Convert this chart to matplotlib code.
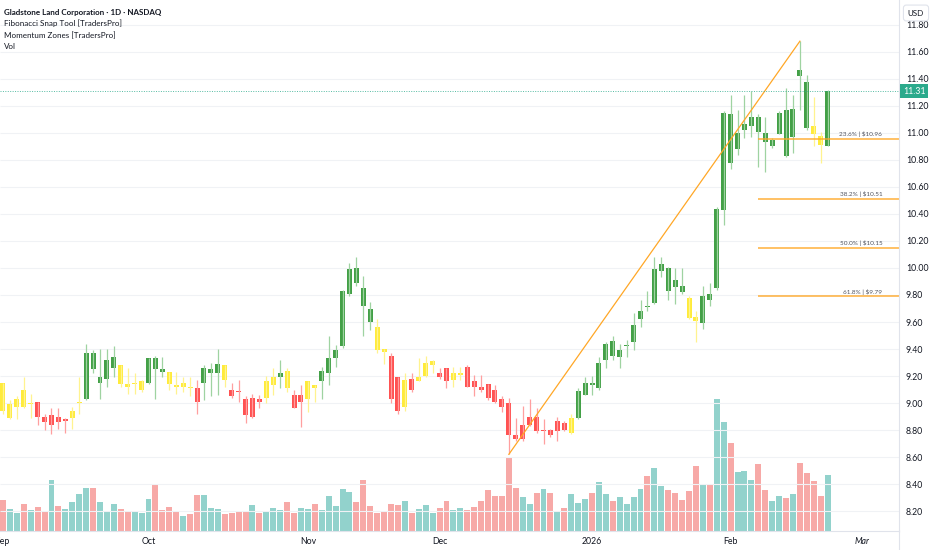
import numpy as np
import matplotlib.pyplot as plt
from matplotlib.lines import Line2D
from matplotlib.transforms import blended_transform_factory

plt.rcParams['font.family'] = ['Lato', 'DejaVu Sans']

# daily bars, Sep 2 2025 .. Feb 23 2026 (bar index = trading day)
opens = [9.15, 8.89, 8.97, 9.10, 8.99, 9.01, 8.90, 8.84, 8.90, 8.87,
         8.89, 9.00, 9.03, 9.37, 9.15, 9.18, 9.26, 9.28, 9.14, 9.14,
         9.10, 9.15, 9.33, 9.25, 9.23, 9.13, 9.12, 9.12, 9.11, 9.15,
         9.22, 9.22, 9.28, 9.10, 9.09, 9.03, 8.90, 9.03, 9.04, 9.13,
         9.19, 9.24, 9.06, 9.01, 9.03, 9.13, 9.16, 9.22, 9.33, 9.42,
         9.81, 10.00, 9.85, 9.70, 9.56, 9.40, 9.35, 9.19, 8.97, 9.18,
         9.16, 9.20, 9.28, 9.22, 9.26, 9.17, 9.21, 9.27, 9.16, 9.12,
         9.14, 9.10, 9.03, 9.00, 8.76, 8.73, 8.84, 8.90, 8.79, 8.80,
         8.79, 8.85, 8.78, 8.89, 9.06, 9.15, 9.11, 9.32, 9.46, 9.34,
         9.42, 9.45, 9.62, 9.72, 9.74, 9.98, 10.00, 9.91, 9.87, 9.78,
         9.64, 9.59, 9.81, 9.85, 10.43, 11.14, 10.88, 11.02, 11.05, 11.12,
         11.00, 10.90, 10.99, 11.17, 10.97, 11.47, 11.38, 11.05, 10.98, 10.90]
highs = [9.15, 9.02, 9.05, 9.19, 9.07, 9.01, 8.92, 8.96, 8.96, 8.89,
         8.97, 9.19, 9.44, 9.39, 9.40, 9.40, 9.42, 9.28, 9.26, 9.22,
         9.17, 9.33, 9.35, 9.34, 9.23, 9.23, 9.19, 9.19, 9.17, 9.28,
         9.30, 9.40, 9.28, 9.15, 9.17, 9.05, 9.07, 9.06, 9.20, 9.26,
         9.32, 9.26, 9.10, 9.13, 9.16, 9.13, 9.27, 9.50, 9.43, 9.84,
         10.04, 10.08, 9.94, 9.75, 9.62, 9.40, 9.37, 9.19, 9.22, 9.22,
         9.33, 9.35, 9.32, 9.26, 9.26, 9.27, 9.27, 9.28, 9.21, 9.21,
         9.14, 9.13, 9.05, 9.04, 8.89, 8.98, 9.03, 8.96, 8.88, 8.81,
         8.90, 8.87, 8.92, 9.11, 9.19, 9.20, 9.34, 9.45, 9.50, 9.44,
         9.47, 9.67, 9.76, 9.83, 10.08, 10.08, 10.01, 10.00, 10.00, 9.79,
         9.68, 9.87, 9.89, 10.45, 11.16, 11.28, 11.17, 11.28, 11.31, 11.14,
         11.12, 10.96, 11.16, 11.33, 11.28, 11.68, 11.43, 11.27, 11.01, 11.32]
lows = [8.92, 8.88, 8.88, 8.96, 8.89, 8.84, 8.80, 8.77, 8.81, 8.78,
        8.81, 8.92, 9.02, 9.22, 9.03, 9.12, 9.19, 9.12, 9.07, 9.07,
        9.08, 9.14, 9.03, 9.19, 9.10, 9.07, 9.08, 9.05, 8.92, 9.02,
        9.05, 9.06, 9.12, 9.04, 9.01, 8.85, 8.89, 8.96, 9.00, 9.06,
        9.11, 9.08, 8.96, 8.82, 8.93, 9.01, 9.03, 9.13, 9.27, 9.41,
        9.79, 9.87, 9.50, 9.54, 9.37, 9.29, 9.00, 8.92, 8.94, 9.08,
        9.16, 9.19, 9.22, 9.18, 9.11, 9.12, 9.17, 9.12, 9.05, 9.08,
        9.02, 9.00, 8.93, 8.62, 8.72, 8.72, 8.83, 8.78, 8.70, 8.75,
        8.72, 8.79, 8.77, 8.88, 9.06, 9.06, 9.10, 9.26, 9.32, 9.26,
        9.34, 9.39, 9.56, 9.68, 9.73, 9.93, 9.76, 9.73, 9.81, 9.62,
        9.45, 9.55, 9.72, 9.84, 10.32, 10.73, 10.84, 10.96, 10.97, 10.75,
        10.71, 10.89, 10.99, 10.82, 10.85, 11.17, 11.02, 10.90, 10.78, 10.90]
closes = [8.94, 8.99, 9.03, 8.97, 9.00, 8.90, 8.86, 8.91, 8.86, 8.87,
          8.94, 9.00, 9.37, 9.25, 9.19, 9.32, 9.34, 9.14, 9.12, 9.15,
          9.16, 9.33, 9.25, 9.23, 9.14, 9.12, 9.15, 9.11, 9.01, 9.26,
          9.25, 9.29, 9.17, 9.05, 9.08, 8.91, 9.04, 9.01, 9.16, 9.19,
          9.22, 9.11, 8.96, 9.06, 9.16, 9.11, 9.24, 9.33, 9.39, 9.83,
          9.99, 9.89, 9.72, 9.60, 9.39, 9.38, 9.03, 8.94, 9.17, 9.10,
          9.19, 9.30, 9.31, 9.19, 9.16, 9.22, 9.22, 9.12, 9.12, 9.10,
          9.04, 9.01, 8.97, 8.76, 8.73, 8.84, 8.90, 8.79, 8.80, 8.76,
          8.87, 8.80, 8.89, 9.09, 9.15, 9.13, 9.30, 9.44, 9.35, 9.39,
          9.43, 9.58, 9.68, 9.71, 9.99, 10.03, 9.83, 9.86, 9.82, 9.63,
          9.61, 9.79, 9.76, 10.44, 11.15, 10.78, 11.00, 11.07, 11.12, 11.01,
          10.93, 10.95, 11.15, 10.83, 11.18, 11.42, 11.04, 10.99, 10.91, 11.31]
# volume in thousands of shares
volumes = [307, 223, 183, 267, 210, 240, 190, 510, 253, 223,
           287, 370, 427, 427, 293, 190, 273, 217, 190, 197,
           183, 323, 470, 210, 240, 203, 153, 170, 363, 363,
           233, 217, 170, 183, 203, 200, 260, 183, 193, 227,
           207, 293, 183, 233, 223, 273, 213, 350, 247, 417,
           387, 293, 513, 247, 183, 193, 267, 257, 300, 183,
           223, 257, 180, 230, 297, 213, 227, 207, 240, 297,
           410, 347, 347, 740, 433, 340, 267, 380, 417, 380,
           200, 227, 367, 277, 317, 380, 487, 373, 297, 340,
           267, 340, 420, 553, 627, 450, 410, 383, 310, 397,
           650, 472, 457, 1320, 1087, 877, 587, 597, 510, 667,
           407, 300, 347, 330, 370, 677, 580, 503, 350, 557]
# Momentum Zones colouring: g = up zone, y = neutral, r = down zone
zones = list("yyyyyrrrrryyggggg" "yyyygggyyyyrgggy" "rrrrryygyrryy"
             "ggggggggyyrryryyyrryy" "rrrrrrrrrrrrrrry"
             "gggggggggggggggg" "yy" "gggggggggggggggg" "yyg")

month_idx = [0, 21, 44, 63, 85, 105, 124]
month_labels = ["Sep", "Oct", "Nov", "Dec", "2026", "Feb", "Mar"]

# Fibonacci Snap Tool swing
fib_low_idx, fib_low = 73, 8.62
fib_high_idx, fib_high = 115, 11.68
fib_ratios = [0.236, 0.382, 0.5, 0.618]
fib_start = 109

body_col = {'g': '#43A047', 'y': '#FFEB3B', 'r': '#FF5252'}
wick_col = {'g': '#9FD3A1', 'y': '#FFF38F', 'r': '#FF9F9F'}
vol_up, vol_dn = '#92D2CC', '#F7A9A7'
grid_c = '#F0F2F5'
line_c = '#E0E3EB'
txt_c = '#131722'
teal = '#2BAA8C'
orange = '#FFA726'

W, H = 932, 550
fig = plt.figure(figsize=(W / 100, H / 100), dpi=100)
rect = [0, 19 / H, 899 / W, 531 / H]
axv = fig.add_axes(rect)
ax = fig.add_axes(rect, sharex=axv)
axv.set_zorder(1)
ax.set_zorder(2)
ax.patch.set_visible(False)

x = np.arange(len(closes))
o = np.array(opens)
c = np.array(closes)
xmin, xmax = -0.43, 129.3
ylo, yhi = 8.052, 11.985
grid_levels = np.round(np.arange(8.2, 11.81, 0.2), 2)

# grid lives on the back axes so the volume sits over it
axv.hlines(grid_levels, xmin, xmax, colors=grid_c, linewidth=0.8,
           transform=ax.transData)
axv.bar(x, volumes, width=0.86,
        color=[vol_up if cc >= oo else vol_dn for oo, cc in zip(o, c)])
axv.set_ylim(0, 5310)
axv.set_axis_off()

# candles
ax.vlines(x, lows, highs, colors=[wick_col[z] for z in zones], linewidth=0.9)
bottoms = np.minimum(o, c)
heights = np.maximum(np.abs(c - o), 0.01)
ax.bar(x, heights, bottom=bottoms, width=0.72,
       color=[body_col[z] for z in zones])

# fibonacci swing and levels
ax.plot([fib_low_idx, fib_high_idx], [fib_low, fib_high], color=orange,
        linewidth=0.9)
for r in fib_ratios:
    lvl = fib_high - r * (fib_high - fib_low)
    ax.hlines(lvl, fib_start, xmax, colors=orange, linewidth=1.1, alpha=0.9)
    ax.text(126.9, lvl + 0.012, f"{r * 100:.1f}% | ${lvl:.2f}", ha='right',
            va='bottom', fontsize=4.6, color='#50535E')

# last price line and label
last = closes[-1]
ax.axhline(last, color=teal, linestyle=(0, (1, 1.5)), linewidth=0.7, alpha=0.8)
trans = blended_transform_factory(ax.transAxes, ax.transData)
ax.text(1.0045, last, f"{last:.2f}", transform=trans, ha='left', va='center',
        fontsize=6.3, color='white', clip_on=False, zorder=10,
        bbox=dict(boxstyle='square,pad=0.3', fc=teal, ec='none'))

ax.set_xlim(xmin, xmax)
ax.set_ylim(ylo, yhi)
ax.yaxis.tick_right()
ax.set_yticks(grid_levels, [f"{v:.2f}" for v in grid_levels])
ax.set_xticks(month_idx, month_labels)
ax.get_xticklabels()[-1].set_style('italic')
ax.tick_params(axis='y', length=0, pad=5, labelsize=6.3, labelcolor=txt_c)
ax.tick_params(axis='x', length=0, pad=4, labelsize=6.3, labelcolor=txt_c)
for s in ['top', 'left']:
    ax.spines[s].set_visible(False)
for s in ['right', 'bottom']:
    ax.spines[s].set_color(line_c)
    ax.spines[s].set_linewidth(0.8)
fig.add_artist(Line2D([899 / W, 899 / W], [0, 19 / H], color=line_c,
                      linewidth=0.8, transform=fig.transFigure))

# legend lines top left
fig.text(4 / W, 1 - 12 / H, "Gladstone Land Corporation · 1D · NASDAQ",
         fontsize=5.8, color=txt_c, weight='bold', va='center')
legend_rows = ["Fibonacci Snap Tool [TradersPro]", "Momentum Zones [TradersPro]",
               "Vol"]
for i, t in enumerate(legend_rows):
    fig.text(4 / W, 1 - (23.5 + 11.6 * i) / H, t, fontsize=5.8, color=txt_c,
             va='center')

fig.text(916 / W, 1 - 13 / H, "USD", ha='center', va='center', fontsize=5.8,
         color=txt_c, zorder=20,
         bbox=dict(boxstyle='round,pad=0.55,rounding_size=0.35', fc='white',
                   ec=line_c, lw=0.8))

fig.savefig("out.png", dpi=100)
